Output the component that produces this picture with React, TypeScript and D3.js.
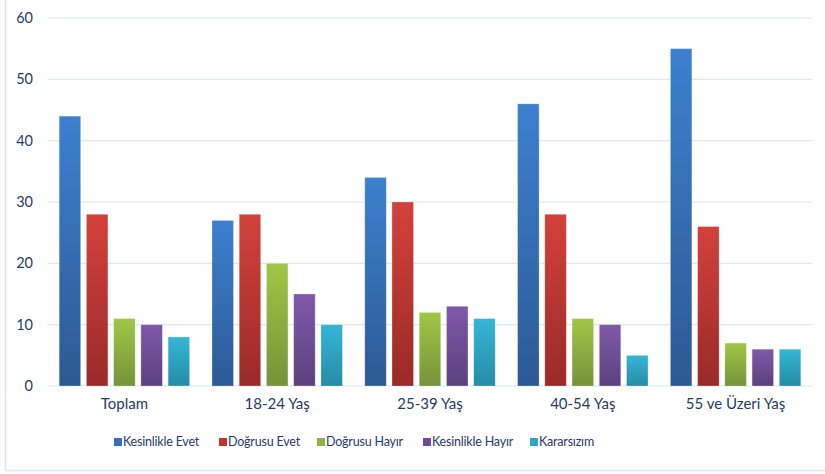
import React from 'react';
import * as d3 from 'd3';

const categories = ['Toplam', '18-24 Yaş', '25-39 Yaş', '40-54 Yaş', '55 ve Üzeri Yaş'];
const seriesNames = ['Kesinlikle Evet', 'Doğrusu Evet', 'Doğrusu Hayır', 'Kesinlikle Hayır', 'Kararsızım'];
const kesinlikleEvet = [44, 27, 34, 46, 55];
const dogrusuEvet = [28, 28, 30, 28, 26];
const dogrusuHayir = [11, 20, 12, 11, 7];
const kesinlikleHayir = [10, 15, 13, 10, 6];
const kararsizim = [8, 10, 11, 5, 6];
const yTicks = [0, 10, 20, 30, 40, 50, 60];

const seriesValues = [kesinlikleEvet, dogrusuEvet, dogrusuHayir, kesinlikleHayir, kararsizim];
// top / bottom gradient colours per series
const seriesColors: [string, string][] = [
  ['#3c80d0', '#2c5a94'],
  ['#d4413b', '#9a2a28'],
  ['#a0c746', '#75933a'],
  ['#8059aa', '#5c417e'],
  ['#35b6d8', '#258ca6'],
];
const legendSwatch = ['#3a6fb8', '#c0362f', '#8fb446', '#6e4c97', '#2fa6c6'];

const W = 825;
const H = 474;
const margin = { top: 18, right: 13, bottom: 88, left: 48 };
const textColor = '#1f3b6a';
const font = 'Lato, "Open Sans", sans-serif';

export default function App() {
  const innerW = W - margin.left - margin.right;
  const innerH = H - margin.top - margin.bottom;

  const x0 = d3.scaleBand<string>().domain(categories).range([0, innerW]).padding(0);
  const x1 = d3
    .scaleBand<string>()
    .domain(seriesNames)
    .range([0, x0.bandwidth()])
    .paddingInner(0.21)
    .paddingOuter(0.41);
  const y = d3.scaleLinear().domain([0, 60]).range([innerH, 0]);

  // legend layout: swatch x positions
  const legendX = [114, 219, 317, 423, 530];

  return (
    <div style={{ position: 'absolute', left: 0, top: 0 }}>
      <svg width={W} height={H} style={{ display: 'block', background: '#fff' }}>
        <defs>
          {seriesColors.map((c, i) => (
            <linearGradient key={i} id={`grad${i}`} x1="0" y1="0" x2="0" y2="1">
              <stop offset="0%" stopColor={c[0]} />
              <stop offset="100%" stopColor={c[1]} />
            </linearGradient>
          ))}
        </defs>

        {/* chart area border */}
        <line x1={5.5} x2={5.5} y1={0} y2={470} stroke="#dbe6f4" strokeWidth={1.5} />
        <line x1={5} x2={W} y1={470.5} y2={470.5} stroke="#dbe6f4" strokeWidth={1.5} />

        <g transform={`translate(${margin.left},${margin.top})`}>
          {yTicks.map((t) => (
            <g key={t}>
              <line x1={0} x2={innerW} y1={y(t)} y2={y(t)} stroke="#dce7f5" strokeWidth={1.2} />
              <text
                x={-15}
                y={y(t)}
                dy="0.35em"
                textAnchor="end"
                fill={textColor}
                fontFamily={font}
                fontSize={14.5}
              >
                {t}
              </text>
            </g>
          ))}

          {categories.map((cat, ci) => (
            <g key={cat} transform={`translate(${x0(cat)},0)`}>
              {seriesNames.map((s, si) => {
                const v = seriesValues[si][ci];
                return (
                  <rect
                    key={s}
                    x={x1(s)}
                    y={y(v)}
                    width={x1.bandwidth()}
                    height={innerH - y(v)}
                    fill={`url(#grad${si})`}
                    stroke="#ffffff"
                    strokeOpacity={0.35}
                    strokeWidth={0.8}
                  />
                );
              })}
              <text
                x={x0.bandwidth() / 2}
                y={innerH + 23}
                textAnchor="middle"
                fill={textColor}
                fontFamily={font}
                fontSize={15}
              >
                {cat}
              </text>
            </g>
          ))}
        </g>

        {seriesNames.map((s, i) => (
          <g key={s} transform={`translate(${legendX[i]},442)`}>
            <rect x={0} y={-4} width={8} height={8} fill={legendSwatch[i]} />
            <text
              x={9}
              y={0}
              dy="0.35em"
              fill={textColor}
              fontFamily={font}
              fontSize={12.5}
              letterSpacing={-0.2}
            >
              {s}
            </text>
          </g>
        ))}
      </svg>
    </div>
  );
}
